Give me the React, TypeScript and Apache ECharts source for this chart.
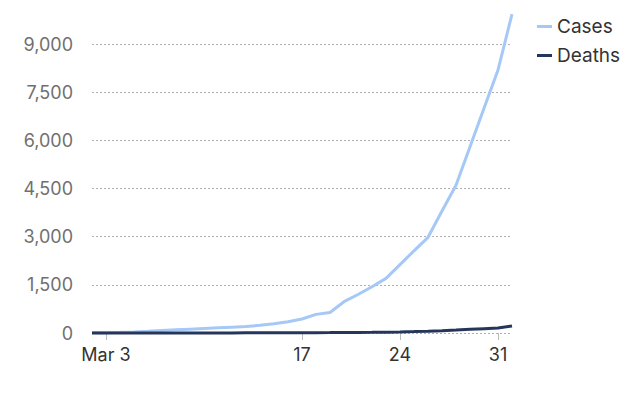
import React, { useEffect, useRef } from "react";
import * as echarts from "echarts";

// Day of March (32 = Apr 1)
const days = [2, 3, 4, 5, 6, 7, 8, 9, 10, 11, 12, 13, 14, 15, 16, 17, 18, 19, 20, 21, 22, 23, 24, 25, 26, 27, 28, 29, 30, 31, 32];
const cases = [5, 10, 20, 35, 55, 80, 100, 120, 140, 160, 180, 200, 240, 290, 350, 436, 580, 640, 975, 1200, 1440, 1700, 2130, 2560, 2980, 3800, 4600, 5800, 7000, 8190, 9930];
const deaths = [0, 0, 0, 1, 1, 1, 1, 2, 2, 3, 3, 4, 5, 6, 7, 9, 10, 12, 15, 18, 22, 27, 35, 45, 58, 72, 92, 115, 135, 155, 218];
const xTickValues = [3, 17, 24, 31];
const xTickLabels = ["Mar 3", "17", "24", "31"];
const yMin = 0;
const yMax = 9000;
const yInterval = 1500;
const seriesNames = ["Cases", "Deaths"];

const FONT = "Inter";

export default function App() {
  const ref = useRef<HTMLDivElement>(null);
  useEffect(() => {
    if (!ref.current) return;
    const chart = echarts.init(ref.current, undefined, { renderer: "svg" });
    chart.setOption({
      animation: false,
      backgroundColor: "#ffffff",
      textStyle: { fontFamily: FONT },
      grid: { left: 84, right: 120, top: 36, bottom: 64, containLabel: false },
      legend: {
        orient: "vertical",
        left: 529,
        top: 9,
        padding: 0,
        itemWidth: 15,
        itemHeight: 3,
        itemGap: 10,
        icon: "rect",
        textStyle: { fontFamily: FONT, fontSize: 19, color: "#333333" },
        data: seriesNames,
      },
      xAxis: {
        type: "value",
        min: days[0],
        max: days[days.length - 1],
        axisLine: { show: false },
        splitLine: { show: false },
        axisTick: {
          show: true,
          length: 7,
          customValues: xTickValues,
          lineStyle: { color: "#bbbbbb", width: 1 },
        },
        axisLabel: {
          customValues: xTickValues,
          margin: 12,
          fontFamily: FONT,
          fontSize: 18,
          color: "#333333",
          formatter: (v: number) => {
            const i = xTickValues.indexOf(v);
            return i >= 0 ? xTickLabels[i] : "";
          },
        },
      },
      yAxis: {
        type: "value",
        min: yMin,
        max: yMax,
        interval: yInterval,
        axisLine: { show: false },
        axisTick: { show: false },
        axisLabel: {
          margin: 19,
          fontFamily: FONT,
          fontSize: 18,
          color: "#707070",
          formatter: (v: number) => v.toLocaleString("en-US"),
        },
        splitLine: { show: true, lineStyle: { color: "#b0b0b0", width: 1, type: [2, 2] } },
      },
      series: [
        {
          name: seriesNames[0],
          type: "line",
          data: days.map((d, i) => [d, cases[i]]),
          showSymbol: false,
          clip: false,
          color: "#a5c8f7",
          lineStyle: { width: 3, color: "#a5c8f7" },
          z: 2,
        },
        {
          name: seriesNames[1],
          type: "line",
          data: days.map((d, i) => [d, deaths[i]]),
          showSymbol: false,
          clip: false,
          color: "#26365a",
          lineStyle: { width: 3, color: "#26365a" },
          z: 3,
        },
      ],
    });
    return () => chart.dispose();
  }, []);
  return <div ref={ref} style={{ width: 624, height: 389 }} />;
}
